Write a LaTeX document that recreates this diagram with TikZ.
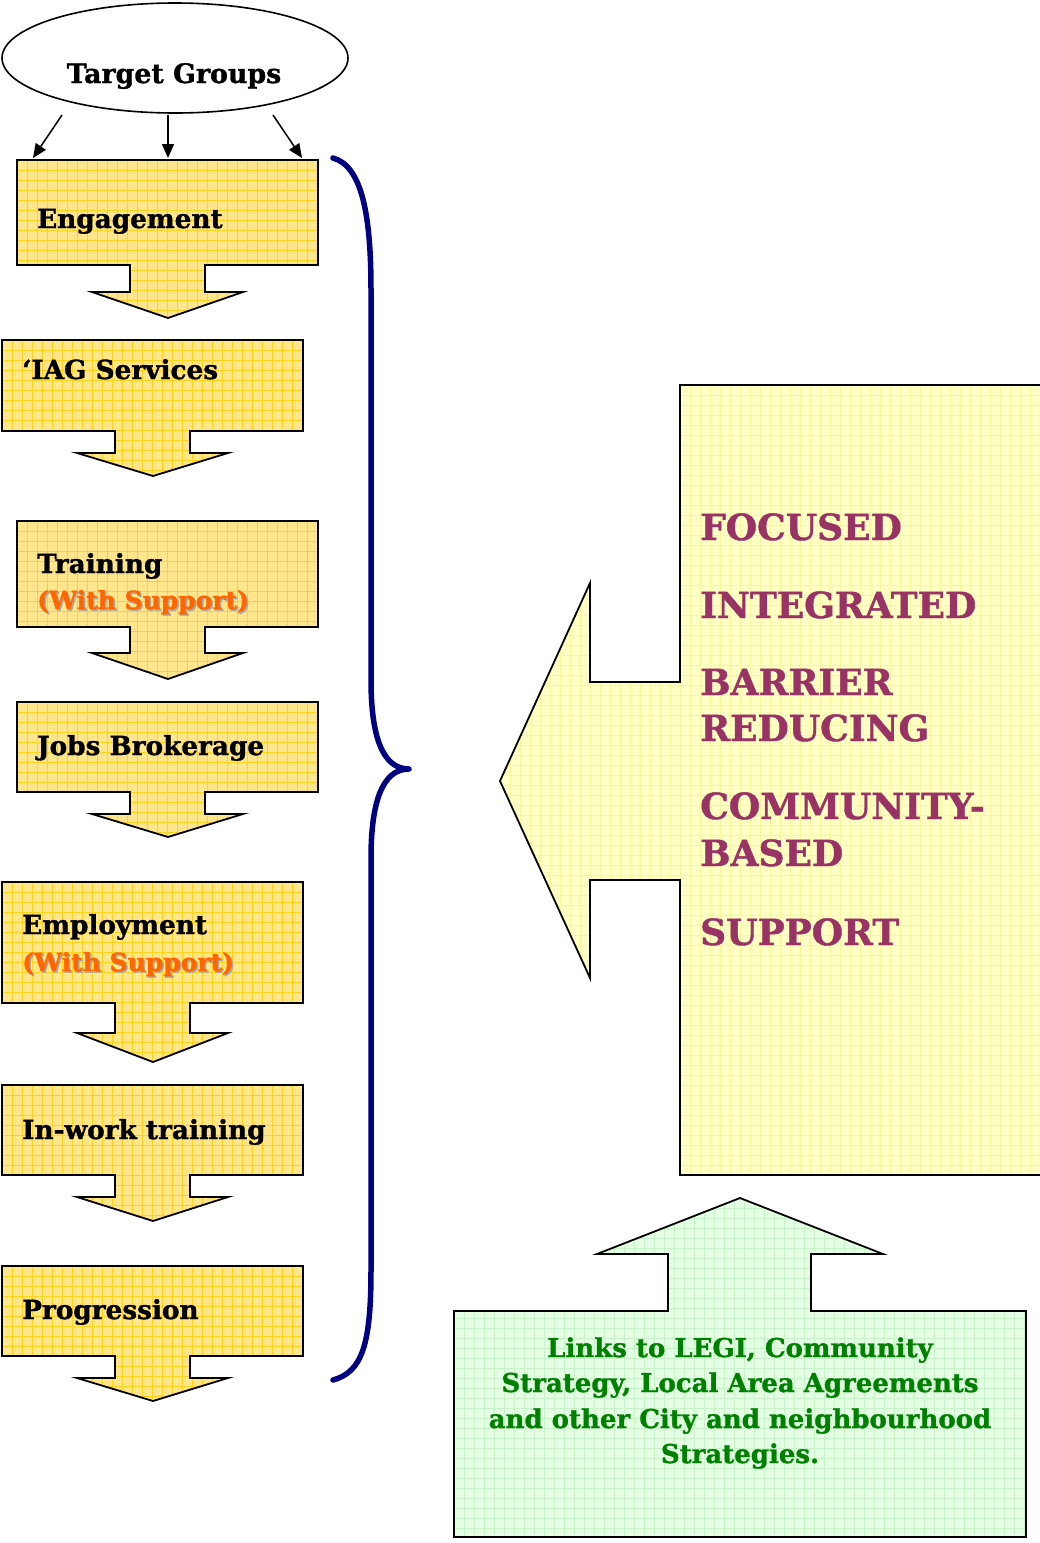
\documentclass[tikz,border=0pt]{standalone}
\usepackage{fontspec}
\setmainfont{DejaVu Serif}
\newfontfamily\heavy{DejaVu Serif Bold}[FakeBold=1.2]
\usetikzlibrary{arrows.meta,shapes.geometric}
\definecolor{ybox}{HTML}{FFE68C}
\definecolor{ygrid}{HTML}{FFD21E}
\definecolor{lybox}{HTML}{FFFFC6}
\definecolor{lygrid}{HTML}{F8F898}
\definecolor{gbox}{HTML}{E4FFE4}
\definecolor{ggrid}{HTML}{C8F2C8}
\definecolor{maroonT}{HTML}{993366}
\definecolor{dkgreen}{HTML}{008000}
\definecolor{orangeT}{HTML}{FF6600}
\definecolor{navyB}{HTML}{000080}
\tikzset{
  border/.style={draw=black, line width=1.8pt, line join=miter},
  lbl/.style={anchor=base west, inner sep=0pt, font=\heavy\fontsize{26.3}{30}\selectfont},
  sup/.style={lbl, font=\heavy\fontsize{25}{30}\selectfont, text=orangeT},
  supshadow/.style={lbl, font=\heavy\fontsize{25}{30}\selectfont, text=black!35},
  biglbl/.style={anchor=base west, inner sep=0pt, font=\heavy\fontsize{36}{40}\selectfont, text=maroonT},
  grnlbl/.style={anchor=base, inner sep=0pt, font=\heavy\fontsize{26}{30}\selectfont, text=dkgreen},
  tgarrow/.style={line width=1.5pt, -{Triangle[length=14pt,width=12pt]}},
}
% #1 fill, #2 grid colour, #3 x0, #4 x1, #5 y0, #6 y1, #7 path
\newcommand{\gridfill}[7]{%
  \begin{scope}
    \clip #7;
    \fill[#1] (#3,#5) rectangle (#4,#6);
    \pgfmathtruncatemacro\nxg{(#4-#3)/10}
    \pgfmathtruncatemacro\nyg{(#6-#5)/10}
    \foreach \ig in {0,...,\nxg}{\draw[#2, line width=0.7pt] ({#3+10*\ig},#5) -- ({#3+10*\ig},#6);}
    \foreach \jg in {0,...,\nyg}{\draw[#2, line width=0.7pt] (#3,{#5+10*\jg}) -- (#4,{#5+10*\jg});}
  \end{scope}
  \draw[border] #7;
}
% #1 left, #2 top, #3 bottom, #4 stem bottom, #5 tip y
\newcommand{\downbox}[5]{%
  \gridfill{ybox}{ygrid}{#1}{#1+301}{#2}{#5}{%
    (#1,#2) -- ({#1+301},#2) -- ({#1+301},#3) -- ({#1+188},#3) -- ({#1+188},#4)
    -- ({#1+226},#4) -- ({#1+151},#5) -- ({#1+75},#4) -- ({#1+113},#4)
    -- ({#1+113},#3) -- (#1,#3) -- cycle}%
}
\begin{document}
\begin{tikzpicture}[x=1pt,y=-1pt]
\fill[white] (0,0) rectangle (1040,1543);
\useasboundingbox (0,0) rectangle (1040,1543);

% Target groups
\node[draw, ellipse, line width=1.6pt, minimum width=346pt, minimum height=110pt, inner sep=0pt] (tg) at (175,58) {};
\node[lbl, anchor=base, font=\heavy\fontsize{26.8}{30}\selectfont] (tgt) at (174,83) {Target Groups};
\coordinate (s1) at (62,115); \coordinate (e1) at (33,158);
\coordinate (s2) at (168,115); \coordinate (e2) at (168,158);
\coordinate (s3) at (273,115); \coordinate (e3) at (302,158);

% left column of steps
\downbox{17}{160}{265}{292}{318}
\downbox{2}{340}{431}{453}{476}
\downbox{17}{521}{627}{653}{679}
\downbox{17}{702}{792}{814}{837}
\downbox{2}{882}{1003}{1033}{1062}
\downbox{2}{1085}{1175}{1197}{1221}
\downbox{2}{1266}{1356}{1378}{1401}

\draw[tgarrow] (s1) -- (e1);
\draw[tgarrow] (s2) -- (e2);
\draw[tgarrow] (s3) -- (e3);

\node[lbl] (t1) at (37,228) {Engagement};
\node[lbl] (t2) at (22,379) {‘IAG Services};
\node[lbl] (t3) at (37,573) {Training};
\node[supshadow] (t3s) at (38.5,610.5) {(With Support)};
\node[sup] (t3b) at (37,609) {(With Support)};
\node[lbl] (t4) at (37,755) {Jobs Brokerage};
\node[lbl] (t5) at (22,934) {Employment};
\node[supshadow] (t5s) at (23.5,972.5) {(With Support)};
\node[sup] (t5b) at (22,971) {(With Support)};
\node[lbl] (t6) at (22,1139) {In-work training};
\node[lbl] (t7) at (22,1319) {Progression};

% brace
\draw[navyB, line width=5.5pt, line cap=round, line join=round]
  (333,158) .. controls (362,166) and (371,215) .. (371,290)
  -- (371,680) .. controls (371,735) and (382,769) .. (409,769)
  .. controls (382,769) and (371,803) .. (371,858)
  -- (371,1270) .. controls (371,1345) and (362,1372) .. (333,1380);

% big left arrow
\gridfill{lybox}{lygrid}{500}{1050}{385}{1180}{%
  (680,385) -- (1050,385) -- (1050,1175) -- (680,1175) -- (680,880) -- (590,880)
  -- (590,978) -- (500,781) -- (590,583) -- (590,682) -- (680,682) -- cycle}
\node[biglbl] (r1) at (700,540) {FOCUSED};
\node[biglbl] (r2) at (700,618) {INTEGRATED};
\node[biglbl] (r3) at (700,695) {BARRIER};
\node[biglbl] (r4) at (700,741) {REDUCING};
\node[biglbl] (r5) at (700,819) {COMMUNITY-};
\node[biglbl] (r6) at (700,866) {BASED};
\node[biglbl] (r7) at (700,945) {SUPPORT};

% green up arrow
\gridfill{gbox}{ggrid}{454}{1030}{1198}{1540}{%
  (454,1311) -- (668,1311) -- (668,1254) -- (597,1254) -- (740,1198) -- (883,1254)
  -- (811,1254) -- (811,1311) -- (1026,1311) -- (1026,1537) -- (454,1537) -- cycle}
\node[grnlbl] (g1) at (740,1357) {Links to LEGI, Community};
\node[grnlbl] (g2) at (740,1392) {Strategy, Local Area Agreements};
\node[grnlbl] (g3) at (740,1428) {and other City and neighbourhood};
\node[grnlbl] (g4) at (740,1463) {Strategies.};
\end{tikzpicture}
\end{document}
